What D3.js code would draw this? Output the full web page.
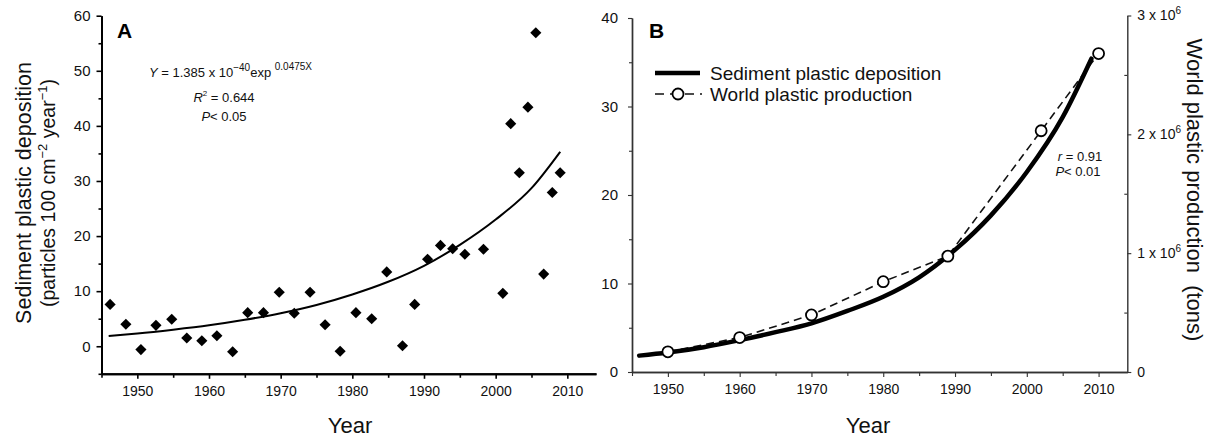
<!DOCTYPE html>
<html>
<head>
<meta charset="utf-8">
<script src="https://cdn.jsdelivr.net/npm/d3@7"></script>
<style>
  html, body { margin: 0; padding: 0; background: #fff; }
  svg { display: block; font-family: "Liberation Sans", Arial, sans-serif; }
</style>
</head>
<body>
<svg id="chart" width="1207" height="439"></svg>
<script>
// ---------- DATA ----------
const depoYears = [1946.2, 1948.4, 1950.5, 1952.6, 1954.8, 1956.9, 1959.0, 1961.1, 1963.3, 1965.4,
  1967.6, 1969.8, 1971.9, 1974.1, 1976.2, 1978.3, 1980.5, 1982.7, 1984.8, 1987.0,
  1988.7, 1990.5, 1992.3, 1994.0, 1995.7, 1998.3, 2001.0, 2002.1, 2003.3, 2004.5,
  2005.6, 2006.7, 2007.9, 2009.0];
const depoValues = [7.6, 4.0, -0.6, 3.8, 4.9, 1.5, 1.0, 1.9, -1.0, 6.1,
  6.1, 9.8, 6.0, 9.8, 3.9, -0.9, 6.1, 5.0, 13.5, 0.1,
  7.6, 15.8, 18.3, 17.7, 16.7, 17.6, 9.6, 40.4, 31.5, 43.4,
  56.9, 13.1, 27.9, 31.5];
const fitYears = [1946, 1950, 1955, 1960, 1965, 1970, 1975, 1980, 1985, 1990, 1995, 2000, 2005, 2009];
const fitValuesA = [1.85, 2.3, 3.0, 3.8, 4.8, 6.0, 7.5, 9.4, 11.7, 14.6, 18.4, 23.0, 28.7, 35.3];
const fitValuesB = [1.85, 2.2, 2.8, 3.6, 4.5, 5.5, 6.9, 8.5, 10.7, 13.8, 17.7, 22.6, 28.8, 35.4];
const prodYears = [1950, 1960, 1970, 1980, 1989, 2002, 2010];
const prodTons = [170000, 290000, 480000, 760000, 975000, 2030000, 2680000];
const xMajorTicks = [1950, 1960, 1970, 1980, 1990, 2000, 2010];
const xMinorTicks = [1945, 1955, 1965, 1975, 1985, 1995, 2005];
const yTicksA = [0, 10, 20, 30, 40, 50, 60];
const yMinorA = [-5, 5, 15, 25, 35, 45, 55];
const yTicksB = [0, 10, 20, 30, 40];
const yMinorB = [5, 15, 25, 35];
const rightTicks = [0, 1000000, 2000000, 3000000];
const rightMinor = [500000, 1500000, 2500000];
const rightTickLabels = ["0", "1 x 10|6", "2 x 10|6", "3 x 10|6"];

// ---------- SETUP ----------
const svg = d3.select("#chart");
const FONT = "'Liberation Sans', Arial, sans-serif";

function styleAxis(g, color, width, fs) {
  g.select(".domain").attr("stroke", color).attr("stroke-width", width);
  g.selectAll(".tick line").attr("stroke", color).attr("stroke-width", width * 0.8);
  g.selectAll(".tick text").attr("fill", "#111").attr("font-size", fs).attr("font-family", FONT);
}

// ================= PANEL A =================
const xA = d3.scaleLinear().domain([1945, 2014]).range([101.5, 596]);
const yA = d3.scaleLinear().domain([-5, 60]).range([373.8, 15.7]);

svg.append("g").attr("transform", "translate(0,373.8)")
  .call(d3.axisBottom(xA).tickValues(xMinorTicks).tickSize(4).tickFormat("").tickSizeOuter(0))
  .call(g => styleAxis(g, "#000", 2, 14));
svg.append("g").attr("transform", "translate(0,373.8)")
  .call(d3.axisBottom(xA).tickValues(xMajorTicks).tickSize(5).tickPadding(7).tickFormat(d3.format("d")).tickSizeOuter(0))
  .call(g => styleAxis(g, "#000", 2, 14));
svg.append("g").attr("transform", "translate(101.5,0)")
  .call(d3.axisLeft(yA).tickValues(yMinorA).tickSize(3).tickFormat("").tickSizeOuter(0))
  .call(g => styleAxis(g, "#000", 2, 15));
svg.append("g").attr("transform", "translate(101.5,0)")
  .call(d3.axisLeft(yA).tickValues(yTicksA).tickSize(5).tickPadding(6).tickSizeOuter(0))
  .call(g => styleAxis(g, "#000", 2, 15));

const lineA = d3.line().x((d, i) => xA(fitYears[i])).y(d => yA(d)).curve(d3.curveMonotoneX);
svg.append("path").datum(fitValuesA).attr("d", lineA)
  .attr("fill", "none").attr("stroke", "#000").attr("stroke-width", 2);

svg.append("g").selectAll("path").data(depoValues).join("path")
  .attr("d", d3.symbol().type(d3.symbolSquare).size(62))
  .attr("transform", (d, i) => `translate(${xA(depoYears[i])},${yA(d)}) rotate(45)`)
  .attr("fill", "#000");

svg.append("text").attr("x", 117).attr("y", 38).text("A")
  .attr("font-size", 21).attr("font-weight", "bold").attr("fill", "#000");

const eq = svg.append("text").attr("x", 149).attr("y", 77).attr("font-size", 13).attr("fill", "#111");
eq.append("tspan").attr("font-style", "italic").text("Y");
eq.append("tspan").text(" = 1.385 x 10");
eq.append("tspan").attr("font-size", 10).attr("dy", -6).text("\u221240");
eq.append("tspan").attr("dy", 6).text("exp ");
eq.append("tspan").attr("font-size", 10).attr("dy", -7).text("0.0475X");

const r2 = svg.append("text").attr("x", 224).attr("y", 102).attr("font-size", 13)
  .attr("text-anchor", "middle").attr("fill", "#111");
r2.append("tspan").attr("font-style", "italic").text("R");
r2.append("tspan").attr("font-size", 8).attr("dy", -6).text("2");
r2.append("tspan").attr("dy", 6).text(" = 0.644");

const pA = svg.append("text").attr("x", 224).attr("y", 121).attr("font-size", 13)
  .attr("text-anchor", "middle").attr("fill", "#111");
pA.append("tspan").attr("font-style", "italic").text("P");
pA.append("tspan").text("< 0.05");

svg.append("text").attr("transform", "translate(31,193) rotate(-90)")
  .attr("text-anchor", "middle").attr("font-size", 21.5).attr("fill", "#111")
  .text("Sediment plastic deposition");
const yt2 = svg.append("text").attr("transform", "translate(55,193) rotate(-90)")
  .attr("text-anchor", "middle").attr("font-size", 19.5).attr("fill", "#111");
yt2.append("tspan").text("(particles 100 cm");
yt2.append("tspan").attr("font-size", 13).attr("dy", -8).text("\u22122");
yt2.append("tspan").attr("dy", 8).text(" year");
yt2.append("tspan").attr("font-size", 13).attr("dy", -8).text("\u22121");
yt2.append("tspan").attr("dy", 8).text(")");

svg.append("text").attr("x", 350).attr("y", 433).attr("text-anchor", "middle")
  .attr("font-size", 22).attr("fill", "#111").text("Year");

// ================= PANEL B =================
const xB = d3.scaleLinear().domain([1945, 2014]).range([632, 1127.3]);
const yB = d3.scaleLinear().domain([0, 40]).range([372, 18]);
const yR = d3.scaleLinear().domain([0, 3000000]).range([372, 15.5]);
const axB = "#333";

svg.append("g").attr("transform", "translate(0,372)")
  .call(d3.axisBottom(xB).tickValues(xMinorTicks).tickSize(4).tickFormat("").tickSizeOuter(0))
  .call(g => styleAxis(g, axB, 1.4, 14));
svg.append("g").attr("transform", "translate(0,372)")
  .call(d3.axisBottom(xB).tickValues(xMajorTicks).tickSize(5).tickPadding(7).tickFormat(d3.format("d")).tickSizeOuter(0))
  .call(g => styleAxis(g, axB, 1.4, 14));
svg.append("g").attr("transform", "translate(632,0)")
  .call(d3.axisLeft(yB).tickValues(yMinorB).tickSize(3).tickFormat("").tickSizeOuter(0))
  .call(g => styleAxis(g, axB, 1.4, 15));
svg.append("g").attr("transform", "translate(632,0)")
  .call(d3.axisLeft(yB).tickValues(yTicksB).tickSize(4).tickPadding(10).tickSizeOuter(0))
  .call(g => styleAxis(g, axB, 1.4, 15));

svg.append("g").attr("transform", "translate(1127.3,0)")
  .call(d3.axisLeft(yR).tickValues(rightMinor).tickSize(3).tickFormat("").tickSizeOuter(0))
  .call(g => styleAxis(g, axB, 1.4, 14))
  .call(g => g.select(".domain").remove());
const rAx = svg.append("g").attr("transform", "translate(1127.3,0)")
  .call(d3.axisRight(yR).tickValues(rightTicks).tickSize(4).tickPadding(6).tickFormat("").tickSizeOuter(0))
  .call(g => styleAxis(g, axB, 1.4, 14));
rAx.selectAll(".tick").each(function(d, i) {
  const parts = rightTickLabels[i].split("|");
  const t = d3.select(this).select("text").attr("font-size", 14);
  t.text(null);
  t.append("tspan").text(parts[0]);
  if (parts[1]) t.append("tspan").attr("font-size", 10).attr("dy", -6).text(parts[1]);
});

const lineProd = d3.line().x((d, i) => xB(prodYears[i])).y(d => yR(d));
svg.append("path").datum(prodTons).attr("d", lineProd)
  .attr("fill", "none").attr("stroke", "#111").attr("stroke-width", 1.6)
  .attr("stroke-dasharray", "8,5");

const lineB = d3.line().x((d, i) => xB(fitYears[i])).y(d => yB(d)).curve(d3.curveMonotoneX);
svg.append("path").datum(fitValuesB).attr("d", lineB)
  .attr("fill", "none").attr("stroke", "#000").attr("stroke-width", 4.5).attr("stroke-linecap", "round");

svg.append("g").selectAll("circle").data(prodTons).join("circle")
  .attr("cx", (d, i) => xB(prodYears[i])).attr("cy", d => yR(d)).attr("r", 5.5)
  .attr("fill", "#fff").attr("stroke", "#000").attr("stroke-width", 1.8);

svg.append("text").attr("x", 649).attr("y", 38).text("B")
  .attr("font-size", 21).attr("font-weight", "bold").attr("fill", "#000");

const leg = svg.append("g");
leg.append("line").attr("x1", 655).attr("x2", 700).attr("y1", 73).attr("y2", 73)
  .attr("stroke", "#000").attr("stroke-width", 4.5);
leg.append("text").attr("x", 710).attr("y", 80).attr("font-size", 19).attr("fill", "#111")
  .text("Sediment plastic deposition");
leg.append("line").attr("x1", 655).attr("x2", 702).attr("y1", 94).attr("y2", 94)
  .attr("stroke", "#111").attr("stroke-width", 1.6).attr("stroke-dasharray", "9,6");
leg.append("circle").attr("cx", 678).attr("cy", 94).attr("r", 5.5)
  .attr("fill", "#fff").attr("stroke", "#000").attr("stroke-width", 1.8);
leg.append("text").attr("x", 710).attr("y", 101).attr("font-size", 19).attr("fill", "#111")
  .text("World plastic production");

const rT = svg.append("text").attr("x", 1080).attr("y", 161).attr("font-size", 13)
  .attr("text-anchor", "middle").attr("fill", "#111");
rT.append("tspan").attr("font-style", "italic").text("r");
rT.append("tspan").text(" = 0.91");
const pB = svg.append("text").attr("x", 1078).attr("y", 176).attr("font-size", 13)
  .attr("text-anchor", "middle").attr("fill", "#111");
pB.append("tspan").attr("font-style", "italic").text("P");
pB.append("tspan").text("< 0.01");

svg.append("text").attr("x", 868).attr("y", 433).attr("text-anchor", "middle")
  .attr("font-size", 22).attr("fill", "#111").text("Year");
svg.append("text").attr("transform", "translate(1187,190) rotate(90)")
  .attr("text-anchor", "middle").attr("font-size", 22).attr("fill", "#111")
  .attr("xml:space", "preserve").style("white-space", "pre")
  .text("World plastic production  (tons)");
</script>
</body>
</html>
